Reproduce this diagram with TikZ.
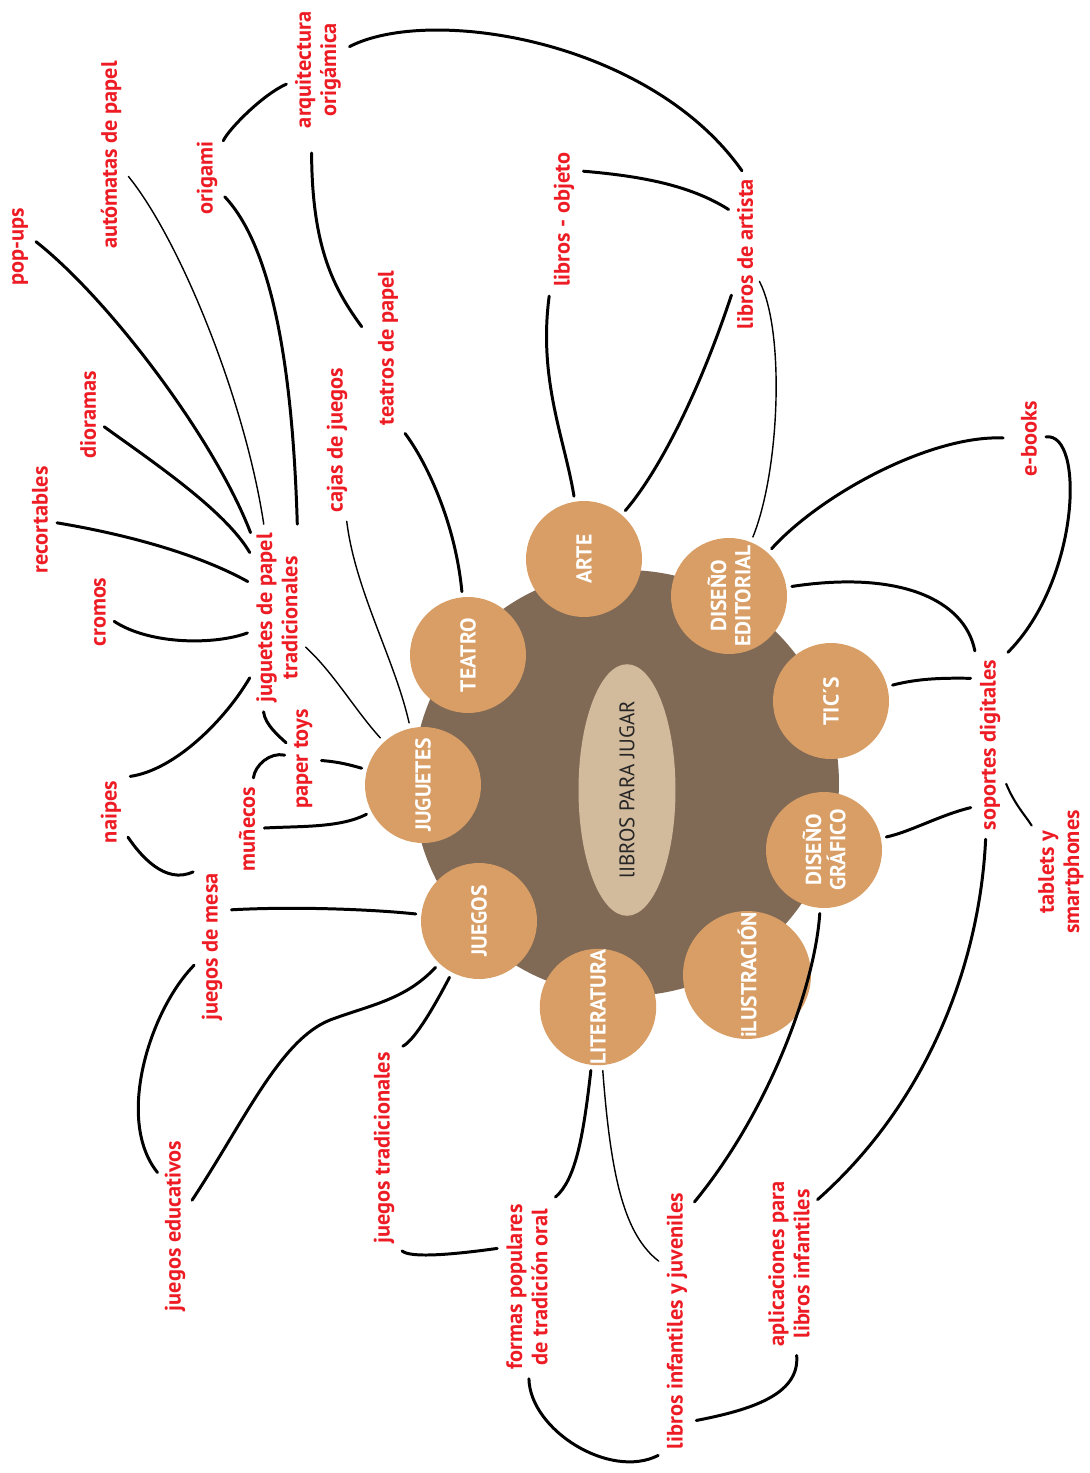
\documentclass[tikz,border=0pt]{standalone}
\usepackage{fontspec}
\setsansfont{PT Sans}
\usetikzlibrary{shapes.geometric}

\definecolor{labelRed}{RGB}{237,28,36}
\definecolor{themeOrange}{RGB}{216,158,101}
\definecolor{hubBrown}{RGB}{128,106,85}
\definecolor{hubTan}{RGB}{210,186,157}

\begin{document}
\begin{tikzpicture}[x = 0.02cm, y = -0.02cm, font=\sffamily]
	\tikzstyle{labelStyle} = [rotate = 90, text = labelRed, align = center, inner sep = 2pt, font = \sffamily\bfseries\fontsize{12.7}{14.4}\selectfont]
	\tikzstyle{themeStyle} = [shape = circle, fill = themeOrange, minimum size = 2.32cm, inner sep = 0pt, rotate = 90, text = white, align = center, font = \sffamily\bfseries\fontsize{12.3}{13.8}\selectfont]
	\tikzstyle{linkStyle} = [line width = 1.7pt, line cap = round, shorten <= 3pt, shorten >= 3pt]
	\tikzstyle{thinLinkStyle} = [linkStyle, line width = 0.8pt]
	\useasboundingbox (0,0) rectangle (1089,1473);
	% centre
	\node[shape = circle, fill = hubBrown, minimum size = 8.52cm, inner sep = 0pt] (hub) at (626,783) {};
	\node[shape = ellipse, fill = hubTan, minimum width = 4.32cm, minimum height = 1.94cm, inner sep = 0pt, rotate = 90, text = black!85, font = \sffamily\fontsize{12}{13}\selectfont] (core) at (627,790) {lIBROS PARA JUGAR};
	\node[themeStyle] (arte) at (584,559) {ARTE};
	\node[themeStyle] (editorial) at (729,596) {DISEÑO\\EDITORIAL};
	\node[themeStyle] (tics) at (831,701) {TIC´S};
	\node[themeStyle] (grafico) at (824,850) {DISEÑO\\GRÁFICO};
	\node[themeStyle, minimum size = 2.56cm] (ilustracion) at (747,975) {iLUSTRACIÓN};
	\node[themeStyle] (literatura) at (598,1007) {LITERATURA};
	\node[themeStyle] (juegos) at (479,921) {JUEGOS};
	\node[themeStyle] (juguetes) at (423,785) {JUGUETES};
	\node[themeStyle] (teatro) at (468,655) {TEATRO};
	% labels
	\node[labelStyle] (popups) at (20,247) {pop-ups};
	\node[labelStyle] (automatas) at (111,155) {autómatas de papel};
	\node[labelStyle] (origami) at (207,178) {origami};
	\node[labelStyle] (arquitectura) at (318,70) {arquitectura\\origámica};
	\node[labelStyle] (dioramas) at (88,415) {dioramas};
	\node[labelStyle] (teatrospapel) at (388,348) {teatros de papel};
	\node[labelStyle] (cajas) at (337,440) {cajas de juegos};
	\node[labelStyle] (recortables) at (40,520) {recortables};
	\node[labelStyle] (cromos) at (100,612) {cromos};
	\node[labelStyle] (jugpapel) at (277,618) {juguetes de papel\\tradicionales};
	\node[labelStyle] (papertoys) at (303,759) {paper toys};
	\node[labelStyle] (naipes) at (111,812) {naipes};
	\node[labelStyle] (munecos) at (247,829) {muñecos};
	\node[labelStyle] (jmesa) at (212,947) {juegos de mesa};
	\node[labelStyle] (jeducativos) at (175,1226) {juegos educativos};
	\node[labelStyle] (jtradicionales) at (384,1148) {juegos tradicionales};
	\node[labelStyle] (librosobjeto) at (564,220) {libros - objeto};
	\node[labelStyle] (librosartista) at (745,254) {libros de artista};
	\node[labelStyle] (ebooks) at (1029,439) {e-books};
	\node[labelStyle] (soportes) at (990,745) {soportes digitales};
	\node[labelStyle] (tablets) at (1061,872) {tablets y\\smartphones};
	\node[labelStyle] (formas) at (527,1287) {formas populares\\de tradición oral};
	\node[labelStyle] (libinf) at (677,1321) {libros infantiles y juveniles};
	\node[labelStyle] (aplicaciones) at (789,1264) {aplicaciones para\\libros infantiles};
	% juguetes de papel
	\draw[linkStyle] (popups.-54) .. controls (110,300) and (215,440) .. (jugpapel.17);
	\draw[thinLinkStyle] (automatas) .. controls (180,240) and (245,400) .. (jugpapel.8);
	\draw[linkStyle] (origami) .. controls (275,250) and (293,380) .. (jugpapel.-13);
	\draw[linkStyle] (dioramas) .. controls (150,460) and (225,510) .. (jugpapel.22);
	\draw[linkStyle] (recortables) .. controls (130,535) and (200,555) .. (jugpapel.36);
	\draw[linkStyle] (cromos) .. controls (150,645) and (215,645) .. (jugpapel.118);
	\draw[linkStyle] (jugpapel.156) .. controls (225,720) and (175,770) .. (naipes.south east);
	\draw[linkStyle] (jugpapel.171) .. controls (265,725) and (280,737) .. (papertoys);
	\draw[thinLinkStyle] (jugpapel.-136) .. controls (333,672) and (355,710) .. (juguetes);
	% arte
	\draw[linkStyle] (arquitectura.-52) .. controls (430,5) and (650,40) .. (librosartista.east);
	\draw[linkStyle] (arquitectura) .. controls (262,95) and (228,130) .. (origami);
	\draw[linkStyle, shorten <= 12pt, shorten >= 12pt] (arquitectura.174) .. controls (312,250) and (335,290) .. (teatrospapel.73);
	\draw[linkStyle] (librosobjeto.-16) .. controls (640,176) and (690,185) .. (librosartista.16);
	\draw[linkStyle] (librosobjeto.north west) .. controls (538,380) and (565,440) .. (arte);
	\draw[linkStyle] (librosartista) .. controls (700,390) and (660,470) .. (arte);
	\draw[thinLinkStyle] (librosartista) .. controls (785,330) and (780,470) .. (editorial);
	\draw[linkStyle] (teatrospapel.south west) .. controls (425,460) and (455,520) .. (teatro);
	\draw[thinLinkStyle] (cajas) .. controls (355,590) and (395,660) .. (juguetes);
	% juguetes
	\draw[linkStyle] (papertoys) .. controls (270,752) and (255,765) .. (munecos);
	\draw[linkStyle] (papertoys) .. controls (340,762) and (350,765) .. (juguetes);
	\draw[linkStyle] (munecos) .. controls (300,826) and (340,828) .. (juguetes);
	% juegos
	\draw[linkStyle] (naipes) .. controls (140,855) and (165,885) .. (jmesa.north east);
	\draw[linkStyle] (jmesa.-21) .. controls (300,906) and (380,910) .. (juegos);
	\draw[linkStyle] (jmesa) .. controls (150,1010) and (115,1120) .. (jeducativos.16);
	\draw[linkStyle] (juegos) .. controls (405,1000) and (370,1005) .. (330,1020) .. controls (280,1040) and (245,1120) .. (jeducativos);
	\draw[linkStyle] (juegos) .. controls (435,1005) and (415,1040) .. (jtradicionales.south east);
	\draw[linkStyle] (jtradicionales.south west) .. controls (410,1258) and (450,1255) .. (formas.32);
	% literatura
	\draw[linkStyle] (literatura) .. controls (583,1140) and (575,1180) .. (formas.south east);
	\draw[thinLinkStyle] (literatura) .. controls (611,1180) and (625,1235) .. (libinf.14);
	\draw[linkStyle] (formas) .. controls (530,1430) and (610,1480) .. (libinf.north west);
	\draw[linkStyle] (libinf.-172) .. controls (750,1410) and (800,1395) .. (aplicaciones);
	\draw[linkStyle] (grafico) .. controls (815,985) and (770,1110) .. (libinf.-7);
	% soportes digitales
	\draw[linkStyle] (soportes) .. controls (980,960) and (930,1100) .. (aplicaciones.-22);
	\draw[linkStyle] (grafico) .. controls (910,832) and (940,815) .. (soportes.167);
	\draw[linkStyle] (tics) .. controls (920,678) and (945,678) .. (soportes.12);
	\draw[linkStyle] (editorial) .. controls (900,570) and (965,600) .. (soportes.north east);
	\draw[linkStyle, shorten >= 8pt] (editorial) .. controls (820,495) and (930,435) .. (ebooks);
	\draw[linkStyle] (ebooks) .. controls (1085,432) and (1080,580) .. (soportes.south east);
	\draw[linkStyle, line width = 1.2pt] (soportes) .. controls (1015,805) and (1025,815) .. (tablets);
\end{tikzpicture}
\end{document}
